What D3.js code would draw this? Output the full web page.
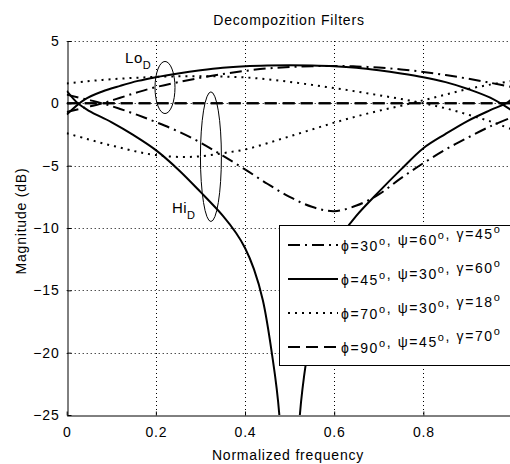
<!DOCTYPE html>
<html>
<head>
<meta charset="utf-8">
<script src="https://cdn.jsdelivr.net/npm/d3@7"></script>
<style>
  body { margin: 0; background: #fff; }
  svg text { font-family: "Liberation Sans", Arial, Helvetica, sans-serif; fill: #000; }
</style>
</head>
<body>
<svg id="chart" width="510" height="464"></svg>
<script>
// frequency grid shared by most curves (normalized frequency)
var freq = [0, 0.04, 0.08, 0.12, 0.16, 0.2, 0.25, 0.3, 0.35, 0.4, 0.45, 0.5, 0.55, 0.6, 0.65, 0.7, 0.75, 0.8, 0.85, 0.9, 0.95, 1.0];

// phi=30, psi=60, gamma=45 (dash-dot)
var loDashDot = [-0.7, -0.35, 0, 0.45, 0.9, 1.3, 1.7, 2.05, 2.35, 2.6, 2.8, 2.92, 2.98, 3.0, 2.96, 2.87, 2.72, 2.52, 2.27, 1.98, 1.65, 1.3];
var hiDashDot = [0.7, 0.35, 0, -0.45, -0.95, -1.5, -2.25, -3.15, -4.2, -5.3, -6.45, -7.5, -8.3, -8.65, -8.2, -7.3, -6.0, -4.8, -3.7, -2.75, -1.85, -1.1];

// phi=45, psi=30, gamma=60 (solid)
var loSolid = [-0.9, 0.3, 0.95, 1.4, 1.8, 2.1, 2.4, 2.65, 2.85, 2.97, 3.03, 3.05, 3.03, 2.97, 2.85, 2.65, 2.4, 2.1, 1.7, 1.15, 0.45, -0.6];
// the high-pass has a deep notch, so it gets its own frequency points
var freqNotch = [0, 0.025, 0.05, 0.1, 0.15, 0.2, 0.25, 0.3, 0.35, 0.38, 0.4, 0.42, 0.44, 0.46, 0.477, 0.5, 0.523, 0.54, 0.56, 0.58, 0.6, 0.62, 0.65, 0.7, 0.75, 0.8, 0.85, 0.9, 0.95, 0.985, 1.0];
var hiSolid = [1.0, 0, -0.6, -1.5, -2.55, -3.75, -5.3, -7.1, -9.0, -10.4, -11.6, -13.3, -15.8, -20.0, -25, -45, -25, -20.0, -15.8, -13.3, -11.6, -10.4, -9.0, -7.1, -5.3, -3.6, -2.45, -1.4, -0.55, 0, 0.4];

// phi=70, psi=30, gamma=18 (dotted)
var loDotted = [1.6, 1.75, 1.88, 1.98, 2.06, 2.12, 2.17, 2.18, 2.15, 2.08, 1.93, 1.72, 1.48, 1.22, 0.95, 0.65, 0.35, 0.0, -0.4, -0.9, -1.45, -2.1];
var hiDotted = [-2.4, -2.8, -3.2, -3.55, -3.9, -4.15, -4.3, -4.25, -4.0, -3.7, -3.2, -2.65, -2.1, -1.55, -1.05, -0.6, -0.2, 0.25, 0.7, 1.15, 1.5, 1.8];

// phi=90, psi=45, gamma=70 (dashed) - flat
var loDashed = [0, 0, 0, 0, 0, 0, 0, 0, 0, 0, 0, 0, 0, 0, 0, 0, 0, 0, 0, 0, 0, 0];
var hiDashed = [0, 0, 0, 0, 0, 0, 0, 0, 0, 0, 0, 0, 0, 0, 0, 0, 0, 0, 0, 0, 0, 0];

var xTicks = [0, 0.2, 0.4, 0.6, 0.8, 1];
var yTicks = [5, 0, -5, -10, -15, -20, -25];

var legendLabels = [
    [["\u03D5=30", "o"], [", \u03C8=60", "o"], [", \u03B3=45", "o"]],
    [["\u03D5=45", "o"], [", \u03C8=30", "o"], [", \u03B3=60", "o"]],
    [["\u03D5=70", "o"], [", \u03C8=30", "o"], [", \u03B3=18", "o"]],
    [["\u03D5=90", "o"], [", \u03C8=45", "o"], [", \u03B3=70", "o"]]
];

var styles = [
    {dash: "12,5,2,5"},
    {dash: null},
    {dash: "2,5"},
    {dash: "12,6"}
];

var series = [
    {x: freq, y: loDashDot, style: 0},
    {x: freq, y: hiDashDot, style: 0},
    {x: freq, y: loSolid, style: 1},
    {x: freqNotch, y: hiSolid, style: 1},
    {x: freq, y: loDotted, style: 2},
    {x: freq, y: hiDotted, style: 2},
    {x: freq, y: loDashed, style: 3},
    {x: freq, y: hiDashed, style: 3}
];

var svg = d3.select("#chart");
var margin = {left: 66.7, top: 41, bottom: 415, right: 512.5};

var x = d3.scaleLinear().domain([0, 1]).range([margin.left, margin.right]);
var y = d3.scaleLinear().domain([-25, 5]).range([margin.bottom, margin.top]);

svg.append("defs").append("clipPath")
    .attr("id", "plotclip")
    .append("rect")
    .attr("x", margin.left)
    .attr("y", margin.top)
    .attr("width", margin.right - margin.left)
    .attr("height", margin.bottom - margin.top);

// grid
var grid = svg.append("g")
    .attr("stroke", "#000")
    .attr("stroke-width", 1)
    .attr("stroke-dasharray", "1,3");

grid.selectAll(".hgrid")
    .data(yTicks.filter(d => d > -25))
    .enter().append("line")
    .attr("x1", margin.left).attr("x2", margin.right)
    .attr("y1", d => Math.round(y(d)) + 0.5)
    .attr("y2", d => Math.round(y(d)) + 0.5);

grid.selectAll(".vgrid")
    .data(xTicks.filter(d => d > 0))
    .enter().append("line")
    .attr("y1", margin.top).attr("y2", margin.bottom)
    .attr("x1", d => Math.round(x(d)) + 0.5)
    .attr("x2", d => Math.round(x(d)) + 0.5);

// curves
var line = d3.line()
    .x(d => x(d[0]))
    .y(d => y(d[1]))
    .curve(d3.curveCatmullRom.alpha(0.5));

svg.append("g")
    .attr("clip-path", "url(#plotclip)")
    .selectAll("path")
    .data(series)
    .enter().append("path")
    .attr("d", d => line(d.x.map((f, i) => [f, d.y[i]])))
    .attr("fill", "none")
    .attr("stroke", "#000")
    .attr("stroke-width", 2)
    .attr("stroke-dasharray", d => styles[d.style].dash);

// axes
svg.append("g")
    .attr("transform", "translate(0," + (Math.round(y(-25)) + 0.5) + ")")
    .call(d3.axisBottom(x).tickValues(xTicks).tickSizeInner(-4).tickSizeOuter(0).tickPadding(12)
        .tickFormat(d => d === 1 ? "" : d3.format("")(d)))
    .call(g => g.select(".domain").attr("stroke", "#000"))
    .selectAll("text")
    .style("font-size", "14px")
    .style("letter-spacing", "0.8px")
    .attr("fill", "#000");

svg.append("g")
    .attr("transform", "translate(" + (Math.round(x(0)) + 0.5) + ",0)")
    .call(d3.axisLeft(y).tickValues(yTicks).tickSizeInner(-4).tickSizeOuter(0).tickPadding(8))
    .call(g => g.select(".domain").attr("stroke", "#000"))
    .selectAll("text")
    .style("font-size", "14px")
    .style("letter-spacing", "0.8px")
    .attr("fill", "#000");

// annotations (ellipses around low/high pass groups)
var loEllipse = {f: 0.2205, db: 1.27, rf: 0.0224, rdb: 2.09};
var hiEllipse = {f: 0.3235, db: -4.28, rf: 0.0235, rdb: 5.2};

[loEllipse, hiEllipse].forEach(function(e) {
    svg.append("ellipse")
        .attr("cx", x(e.f))
        .attr("cy", y(e.db))
        .attr("rx", x(e.rf) - x(0))
        .attr("ry", y(0) - y(e.rdb))
        .attr("fill", "none")
        .attr("stroke", "#000")
        .attr("stroke-width", 1);
});

function subLabel(f, db, main, sub) {
    var t = svg.append("text")
        .attr("x", x(f))
        .attr("y", y(db))
        .style("font-size", "15px")
        .style("letter-spacing", "0.5px");
    t.append("tspan").text(main);
    t.append("tspan").attr("dy", 6).style("font-size", "11px").text(sub);
}
subLabel(0.131, 3.2, "Lo", "D");
subLabel(0.236, -8.8, "Hi", "D");

// legend
var legend = svg.append("g");
legend.append("rect")
    .attr("x", 279.5).attr("y", 225.5)
    .attr("width", 250).attr("height", 140)
    .attr("fill", "#fff")
    .attr("stroke", "#000")
    .attr("stroke-width", 1);

var rowY = [245, 279, 313, 347];
legendLabels.forEach(function(parts, i) {
    legend.append("line")
        .attr("x1", 288).attr("x2", 338)
        .attr("y1", rowY[i]).attr("y2", rowY[i])
        .attr("stroke", "#000")
        .attr("stroke-width", 2)
        .attr("stroke-dasharray", styles[i].dash);
    var t = legend.append("text")
        .attr("x", 341)
        .attr("y", rowY[i] + 6)
        .style("font-size", "14px")
        .style("letter-spacing", "1.6px");
    parts.forEach(function(p) {
        t.append("tspan").text(p[0]);
        t.append("tspan").attr("dy", -6).style("font-size", "11px").text(p[1]);
        t.append("tspan").attr("dy", 6).text("");
    });
});

// title and axis labels
svg.append("text")
    .attr("x", 289).attr("y", 25)
    .attr("text-anchor", "middle")
    .style("font-size", "14px")
    .style("letter-spacing", "0.8px")
    .text("Decompozition Filters");

svg.append("text")
    .attr("x", 288).attr("y", 460)
    .attr("text-anchor", "middle")
    .style("font-size", "14px")
    .style("letter-spacing", "0.8px")
    .text("Normalized frequency");

svg.append("text")
    .attr("transform", "translate(26,221) rotate(-90)")
    .attr("text-anchor", "middle")
    .style("font-size", "14px")
    .style("letter-spacing", "0.8px")
    .text("Magnitude (dB)");
</script>
</body>
</html>
